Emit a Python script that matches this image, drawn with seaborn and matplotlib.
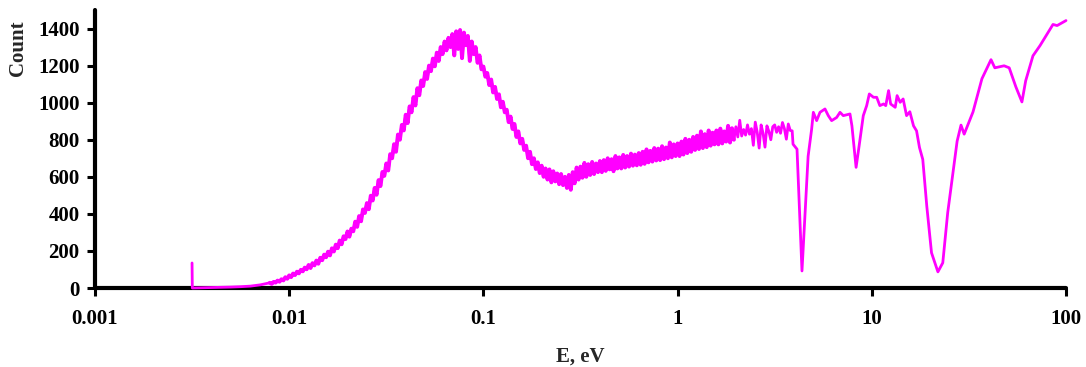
import numpy as np
import pandas as pd
import matplotlib
matplotlib.use("Agg")
import matplotlib.pyplot as plt
import seaborn as sns
from matplotlib.ticker import FixedLocator, FixedFormatter, NullLocator

# ---------------- data ----------------
# low-energy start (with the single spike at the first channel)
low_e = [0.00316, 0.00317, 0.0035, 0.004, 0.0045, 0.005, 0.0056, 0.0063, 0.0071]
low_counts = [135, 0, 1, 2, 3, 5, 7, 10, 17]

# dense, noisy part of the spectrum: log10(E / eV) and counts
dense_log_e = [
    -2.10, -2.09, -2.08, -2.07, -2.06, -2.05, -2.04, -2.03, -2.02, -2.01,
    -2.00, -1.99, -1.98, -1.97, -1.96, -1.95, -1.94, -1.93, -1.92, -1.91,
    -1.90, -1.89, -1.88, -1.87, -1.86, -1.85, -1.84, -1.83, -1.82, -1.81,
    -1.80, -1.79, -1.78, -1.77, -1.76, -1.75, -1.74, -1.73, -1.72, -1.71,
    -1.70, -1.69, -1.68, -1.67, -1.66, -1.65, -1.64, -1.63, -1.62, -1.61,
    -1.60, -1.59, -1.58, -1.57, -1.56, -1.55, -1.54, -1.53, -1.52, -1.51,
    -1.50, -1.49, -1.48, -1.47, -1.46, -1.45, -1.44, -1.43, -1.42, -1.41,
    -1.40, -1.39, -1.38, -1.37, -1.36, -1.35, -1.34, -1.33, -1.32, -1.31,
    -1.30, -1.29, -1.28, -1.27, -1.26, -1.25, -1.24, -1.23, -1.22, -1.21,
    -1.20, -1.19, -1.18, -1.17, -1.16, -1.15, -1.14, -1.13, -1.12, -1.11,
    -1.10, -1.09, -1.08, -1.07, -1.06, -1.05, -1.04, -1.03, -1.02, -1.01,
    -1.00, -0.99, -0.98, -0.97, -0.96, -0.95, -0.94, -0.93, -0.92, -0.91,
    -0.90, -0.89, -0.88, -0.87, -0.86, -0.85, -0.84, -0.83, -0.82, -0.81,
    -0.80, -0.79, -0.78, -0.77, -0.76, -0.75, -0.74, -0.73, -0.72, -0.71,
    -0.70, -0.69, -0.68, -0.67, -0.66, -0.65, -0.64, -0.63, -0.62, -0.61,
    -0.60, -0.59, -0.58, -0.57, -0.56, -0.55, -0.54, -0.53, -0.52, -0.51,
    -0.50, -0.49, -0.48, -0.47, -0.46, -0.45, -0.44, -0.43, -0.42, -0.41,
    -0.40, -0.39, -0.38, -0.37, -0.36, -0.35, -0.34, -0.33, -0.32, -0.31,
    -0.30, -0.29, -0.28, -0.27, -0.26, -0.25, -0.24, -0.23, -0.22, -0.21,
    -0.20, -0.19, -0.18, -0.17, -0.16, -0.15, -0.14, -0.13, -0.12, -0.11,
    -0.10, -0.09, -0.08, -0.07, -0.06, -0.05, -0.04, -0.03, -0.02, -0.01,
    0.00, 0.01, 0.02, 0.03, 0.04, 0.05, 0.06, 0.07, 0.08, 0.09,
    0.10, 0.11, 0.12, 0.13, 0.14, 0.15, 0.16, 0.17, 0.18, 0.19,
    0.20, 0.21, 0.22, 0.23, 0.24, 0.25, 0.26, 0.27, 0.28, 0.29,
    0.30, 0.31, 0.32, 0.33, 0.34, 0.35, 0.36, 0.37, 0.38, 0.39,
    0.40, 0.41, 0.42, 0.43, 0.44, 0.45, 0.46, 0.47, 0.48, 0.49,
    0.50, 0.51, 0.52, 0.53, 0.54, 0.55, 0.56, 0.57, 0.58, 0.59,
]
dense_counts = [
    28, 22, 33, 29, 40, 34, 47, 41, 58, 50,
    68, 59, 78, 70, 88, 79, 98, 90, 110, 101,
    124, 108, 134, 122, 148, 131, 163, 150, 180, 166,
    196, 176, 214, 197, 234, 215, 256, 236, 279, 264,
    305, 277, 320, 306, 358, 330, 388, 360, 424, 405,
    458, 425, 498, 472, 540, 503, 582, 550, 626, 605,
    672, 634, 722, 700, 776, 735, 828, 800, 880, 850,
    935, 890, 980, 948, 1030, 985, 1078, 1040, 1120, 1090,
    1165, 1128, 1200, 1170, 1238, 1196, 1270, 1225, 1300, 1262,
    1330, 1282, 1350, 1300, 1370, 1255, 1385, 1290, 1392, 1240,
    1378, 1310, 1360, 1225, 1330, 1262, 1300, 1215, 1255, 1180,
    1195, 1140, 1160, 1095, 1125, 1055, 1085, 1020, 1045, 975,
    1005, 948, 962, 895, 925, 858, 885, 815, 845, 780,
    805, 745, 768, 700, 735, 668, 700, 642, 678, 620,
    660, 600, 645, 585, 640, 570, 630, 575, 618, 560,
    615, 555, 600, 540, 610, 530, 625, 565, 650, 585,
    655, 595, 675, 600, 668, 610, 680, 615, 672, 625,
    685, 625, 690, 632, 700, 640, 695, 630, 712, 645,
    705, 645, 718, 650, 712, 655, 725, 660, 720, 662,
    728, 665, 735, 670, 748, 678, 740, 682, 755, 688,
    752, 690, 765, 695, 758, 700, 785, 705, 775, 712,
    780, 712, 790, 720, 805, 728, 800, 735, 815, 745,
    822, 750, 845, 755, 830, 760, 850, 768, 838, 775,
    850, 775, 860, 780, 845, 790, 875, 785, 862, 800,
    870, 815, 905, 820, 855, 825, 880, 830, 860, 770,
    895, 840, 755, 880, 835, 760, 875, 845, 800, 870,
    880, 840, 870, 835, 893, 860, 803, 885, 850, 848,
]

# resonance region (sparser channels), E in eV
res_e = [
    3.93, 4.12, 4.37, 4.70, 4.90, 5.0, 5.2, 5.41, 5.74, 5.97,
    6.21, 6.59, 6.86, 7.13, 7.72, 7.9, 8.3, 8.6, 9.04, 9.41,
    9.71, 10.2, 10.6, 11.0, 11.5, 11.8, 12.2, 12.5, 13.2, 13.5,
    14.0, 14.5, 15.1, 15.7, 16.4, 17.0, 17.6, 18.3, 19.2, 20.3,
    21.9, 23.2, 24.6, 27.5, 28.8, 29.9, 33.2, 36.9, 41.1, 43.0,
    48.0, 51.0, 55.2, 59.3, 62.0, 67.6, 73.5, 85.7, 90.0, 100.0,
]
res_counts = [
    776, 749, 92, 711, 857, 948, 903, 948, 966, 930,
    903, 920, 948, 930, 939, 875, 651, 765, 930, 984,
    1047, 1029, 1029, 984, 993, 984, 1065, 993, 975, 1038,
    1002, 1020, 930, 951, 875, 848, 758, 694, 440, 190,
    87, 136, 407, 792, 879, 830, 950, 1129, 1232, 1188,
    1199, 1188, 1085, 1004, 1118, 1253, 1308, 1422, 1416, 1443,
]

x_tick_values = [0.001, 0.01, 0.1, 1, 10, 100]
x_tick_labels = ["0.001", "0.01", "0.1", "1", "10", "100"]
y_tick_values = [0, 200, 400, 600, 800, 1000, 1200, 1400]

# ---------------- build tables ----------------
energy = list(low_e) + [10 ** v for v in dense_log_e] + list(res_e)
counts = list(low_counts) + list(dense_counts) + list(res_counts)
df = pd.DataFrame({"E": energy, "Count": counts})

# the densest thermal part (many channels) appears as a thicker band
df_dense = pd.DataFrame({"E": [10 ** v for v in dense_log_e],
                         "Count": dense_counts})
df_dense = df_dense[df_dense["E"] < 10 ** 0.295]

# ---------------- plot ----------------
sns.set_style("ticks")
plt.rcParams["font.family"] = ["Liberation Serif", "DejaVu Serif"]
plt.rcParams["font.weight"] = "bold"

fig = plt.figure(figsize=(10.86, 3.67), dpi=100)
ax = fig.add_axes([95 / 1086, (367 - 288) / 367, 971 / 1086, 278 / 367])

sns.lineplot(data=df, x="E", y="Count", estimator=None, sort=True,
             color="#FF00FF", linewidth=2.0, ax=ax, zorder=3)
sns.lineplot(data=df_dense, x="E", y="Count", estimator=None, sort=True,
             color="#FF00FF", linewidth=2.8, ax=ax, zorder=3)
for ln in ax.lines:
    ln.set_clip_on(False)

ax.set_xscale("log")
ax.set_xlim(0.001, 100)
ax.set_ylim(0, 1500)
ax.xaxis.set_major_locator(FixedLocator(x_tick_values))
ax.xaxis.set_major_formatter(FixedFormatter(x_tick_labels))
ax.xaxis.set_minor_locator(NullLocator())
ax.set_yticks(y_tick_values)
ax.set_yticklabels([str(v) for v in y_tick_values])

for side in ["top", "right"]:
    ax.spines[side].set_visible(False)
for side in ["left", "bottom"]:
    ax.spines[side].set_linewidth(3)
    ax.spines[side].set_color("black")
    ax.spines[side].set_capstyle("round")

ax.tick_params(axis="both", direction="out", length=6, width=2.2,
               colors="black", labelsize=15)
ax.tick_params(axis="x", pad=9)
ax.tick_params(axis="y", pad=5)
for lab in ax.get_xticklabels() + ax.get_yticklabels():
    lab.set_fontweight("bold")

ax.set_xlabel("E, eV", fontsize=15, fontweight="bold")
ax.set_ylabel("Count", fontsize=15, fontweight="bold")
ax.xaxis.set_label_coords(0.5, -0.212)
ax.yaxis.set_label_coords(-0.069, 0.863)
ax.grid(False)

fig.savefig("out.png", dpi=100)
